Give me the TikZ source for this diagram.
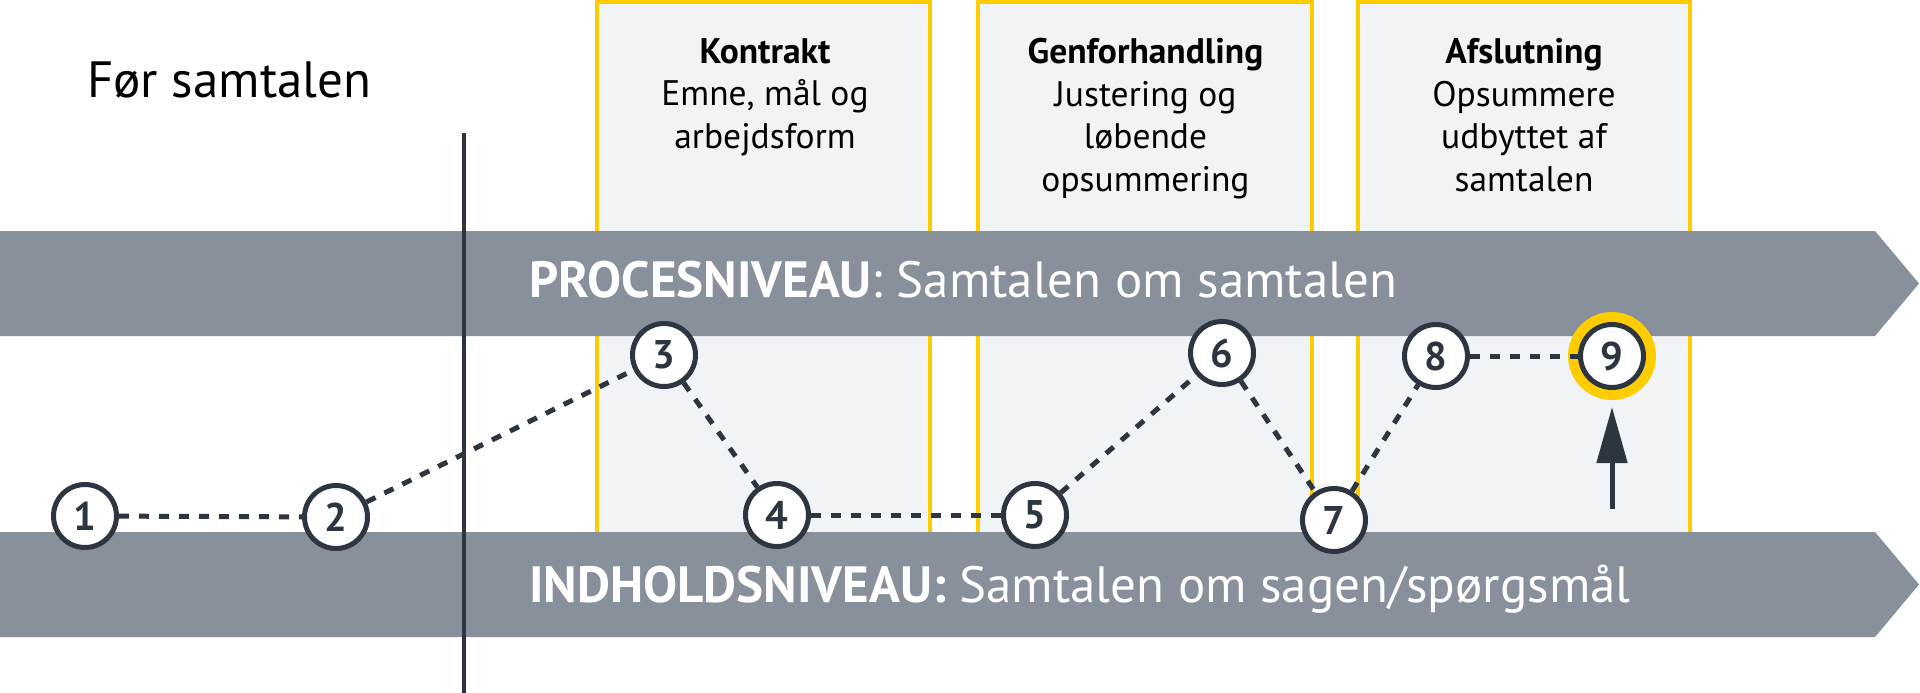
\documentclass[tikz,border=0pt]{standalone}
\usepackage{fontspec}
\setmainfont{PT Sans}
\usetikzlibrary{arrows.meta}
\definecolor{bandgray}{HTML}{87909B}
\definecolor{boxfill}{HTML}{F1F4F7}
\definecolor{gold}{HTML}{FFCC00}
\definecolor{ink}{HTML}{2D3640}
\begin{document}
\begin{tikzpicture}[x=1pt,y=-1pt,
  phasebox/.style={draw=gold, line width=4.5pt, fill=boxfill},
  band/.style={fill=bandgray},
  num/.style={circle, draw=ink, line width=5pt, fill=white, minimum size=63pt, inner sep=0pt, font=\fontsize{40}{40}\selectfont\bfseries, text=ink},
  link/.style={draw=ink, line width=5pt, dash pattern=on 10pt off 10pt},
  phasetext/.style={align=center, anchor=north, font=\fontsize{35.5}{42.7}\selectfont, inner sep=0pt, text=black},
  bandtext/.style={anchor=base west, text=white, inner sep=0pt, font=\fontsize{51}{51}\selectfont}]
\useasboundingbox (0,0) rectangle (1920,693);
\fill[white] (0,0) rectangle (1920,693);
% phase boxes
\draw[phasebox] (597,2.25) rectangle (930,600);
\draw[phasebox] (978,2.25) rectangle (1312,600);
\draw[phasebox] (1358,2.25) rectangle (1690,600);
\node[phasetext] (kontrakt) at (765,38) {\textbf{Kontrakt}\\Emne, mål og\\arbejdsform};
\node[phasetext] (genf) at (1145.5,38) {\textbf{Genforhandling}\\Justering og\\løbende\\opsummering};
\node[phasetext] (afsl) at (1524,38) {\textbf{Afslutning}\\Opsummere\\udbyttet af\\samtalen};
% bands
\fill[band] (0,231) -- (1875,231) -- (1919,283.5) -- (1875,336) -- (0,336) -- cycle;
\fill[band] (0,532) -- (1875,532) -- (1919,584.5) -- (1875,637) -- (0,637) -- cycle;
\node[bandtext] (proc) at (529,297) {\textbf{PROCESNIVEAU}: Samtalen om samtalen};
\node[bandtext] (indh) at (529,602) {\textbf{INDHOLDSNIVEAU:} Samtalen om sagen/spørgsmål};
\node[anchor=base west, inner sep=0pt, font=\fontsize{51}{51}\selectfont, text=black] (foer) at (87,98) {Før samtalen};
% divider
\coordinate (vtop) at (464,133);
\coordinate (vbot) at (464,693);
\draw[ink, line width=4pt] (vtop) -- (vbot);
% steps
\node[circle, fill=gold, minimum size=88pt, inner sep=0pt] (halo) at (1612,356) {};
\node[num] (n1) at (85,516) {1};
\node[num] (n2) at (336,517) {2};
\node[num] (n3) at (664,355) {3};
\node[num] (n4) at (777,515) {4};
\node[num] (n5) at (1035,515) {5};
\node[num] (n6) at (1222,353) {6};
\node[num] (n7) at (1334,520) {7};
\node[num] (n8) at (1436,356) {8};
\node[num] (n9) at (1612,356) {9};
\draw[link] (n1) -- (n2);
\draw[link] (n2) -- (n3);
\draw[link] (n3) -- (n4);
\draw[link] (n4) -- (n5);
\draw[link] (n5) -- (n6);
\draw[link] (n6) -- (n7);
\draw[link] (n7) -- (n8);
\draw[link] (n8) -- (n9);
% arrow
\coordinate (arrbase) at (1612,509);
\coordinate (arrtip) at (1612,407);
\draw[ink, line width=5pt, -{Triangle[length=56pt,width=30pt]}] (arrbase) -- (arrtip);
\end{tikzpicture}
\end{document}
